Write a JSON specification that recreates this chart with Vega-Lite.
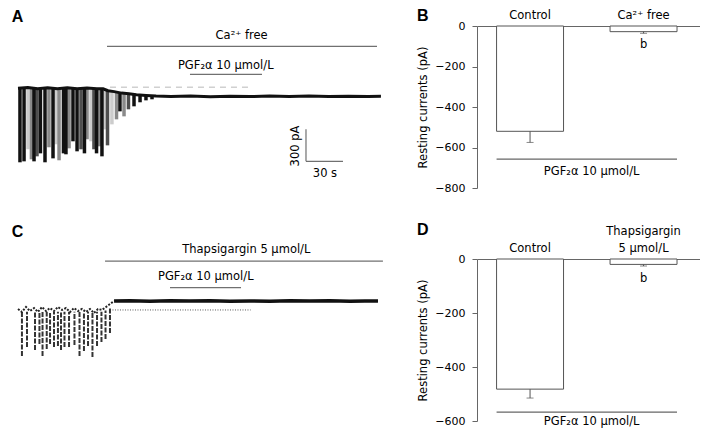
{
  "$schema": "https://vega.github.io/schema/vega-lite/v6.json",
  "padding": {"top": 7, "left": 0, "right": 0, "bottom": 0},
  "columns": 2,
  "spacing": {"row": 28, "column": 22},
  "datasets": {
    "aBase": [
      {"t": 0, "v": 75}, {"t": 8, "v": 82}, {"t": 16, "v": 70}, {"t": 24, "v": 80}, {"t": 32, "v": 72},
      {"t": 40, "v": 80}, {"t": 48, "v": 70}, {"t": 56, "v": 78}, {"t": 64, "v": 72}, {"t": 69, "v": 70},
      {"t": 73, "v": 52}, {"t": 78, "v": 44}, {"t": 84, "v": 30}, {"t": 90, "v": 24}, {"t": 96, "v": 14},
      {"t": 104, "v": 8}, {"t": 112, "v": 2}, {"t": 124, "v": -2}, {"t": 140, "v": 2}, {"t": 156, "v": -3},
      {"t": 172, "v": 1}, {"t": 188, "v": -2}, {"t": 204, "v": 2}, {"t": 220, "v": -1}, {"t": 236, "v": 2},
      {"t": 252, "v": -2}, {"t": 268, "v": 1}, {"t": 284, "v": -1}, {"t": 294.4, "v": 0}
    ],
    "aSpikes": [
      {"t": 8.1, "v": -497, "v2": 75, "sweep": 1}, {"t": 30.8, "v": -450, "v2": 75, "sweep": 1},
      {"t": 59.2, "v": -422, "v2": 75, "sweep": 1}, {"t": 70.6, "v": -310, "v2": 55, "sweep": 1},
      {"t": 76.2, "v": -263, "v2": 44, "sweep": 1},
      {"t": 10.9, "v": -591, "v2": 75, "sweep": 2}, {"t": 25.1, "v": -478, "v2": 75, "sweep": 2},
      {"t": 33.3, "v": -600, "v2": 75, "sweep": 2}, {"t": 41.4, "v": -488, "v2": 75, "sweep": 2},
      {"t": 56.0, "v": -403, "v2": 75, "sweep": 2}, {"t": 66.1, "v": -469, "v2": 75, "sweep": 2},
      {"t": 79.9, "v": -216, "v2": 44, "sweep": 2}, {"t": 86.0, "v": -188, "v2": 28, "sweep": 2},
      {"t": 15.4, "v": -563, "v2": 75, "sweep": 3}, {"t": 51.1, "v": -497, "v2": 75, "sweep": 3},
      {"t": 61.6, "v": -497, "v2": 75, "sweep": 3}, {"t": 72.6, "v": -460, "v2": 55, "sweep": 3},
      {"t": 89.6, "v": -122, "v2": 28, "sweep": 3},
      {"t": 1.6, "v": -619, "v2": 75, "sweep": 4}, {"t": 4.9, "v": -610, "v2": 75, "sweep": 4},
      {"t": 13.0, "v": -610, "v2": 75, "sweep": 4}, {"t": 18.2, "v": -535, "v2": 75, "sweep": 4},
      {"t": 21.9, "v": -619, "v2": 75, "sweep": 4}, {"t": 28.4, "v": -582, "v2": 75, "sweep": 4},
      {"t": 36.9, "v": -535, "v2": 75, "sweep": 4}, {"t": 38.9, "v": -544, "v2": 75, "sweep": 4},
      {"t": 44.6, "v": -422, "v2": 75, "sweep": 4}, {"t": 47.9, "v": -516, "v2": 75, "sweep": 4},
      {"t": 53.9, "v": -535, "v2": 75, "sweep": 4}, {"t": 63.7, "v": -535, "v2": 75, "sweep": 4},
      {"t": 68.1, "v": -563, "v2": 75, "sweep": 4}, {"t": 82.7, "v": -141, "v2": 28, "sweep": 4},
      {"t": 94.1, "v": -94, "v2": 12, "sweep": 4}, {"t": 99.0, "v": -56, "v2": 12, "sweep": 4},
      {"t": 103.8, "v": -38, "v2": 12, "sweep": 4}, {"t": 108.7, "v": -28, "v2": 12, "sweep": 4}
    ],
    "aFaint": [{"t": 74.6, "t2": 190.6, "v": 84}],
    "aBars": [
      {"name": "Ca²⁺ free", "t": 72.2, "t2": 291.2, "v": 469},
      {"name": "PGF₂α", "t": 139.5, "t2": 197.9, "v": 206},
      {"name": "30 s", "t": 233.6, "t2": 263.6, "v": -610}
    ],
    "aScaleV": [{"t": 233.6, "v": -610, "v2": -310}],
    "aText": [
      {"label": "Ca²⁺ free", "t": 181.4, "v": 539},
      {"label": "PGF₂α 10 μmol/L", "t": 168.5, "v": 253},
      {"label": "30 s", "t": 249, "v": -757}
    ],
    "aRot": [{"label": "300 pA", "t": 227.9, "v": -466}],
    "aLetter": [{"label": "A", "t": -5.1, "v": 697}],
    "cPre": [
      {"t": 0, "v": -75}, {"t": 3.2, "v": -103}, {"t": 6.5, "v": -56}, {"t": 9.7, "v": -94}, {"t": 13.0, "v": -66},
      {"t": 16.2, "v": -103}, {"t": 19.5, "v": -56}, {"t": 22.7, "v": -94}, {"t": 26.0, "v": -66}, {"t": 29.2, "v": -94},
      {"t": 32.4, "v": -56}, {"t": 35.7, "v": -84}, {"t": 38.9, "v": -66}, {"t": 42.2, "v": -103}, {"t": 45.4, "v": -66},
      {"t": 48.7, "v": -94}, {"t": 51.9, "v": -75}, {"t": 55.2, "v": -103}, {"t": 58.4, "v": -75}, {"t": 61.6, "v": -113},
      {"t": 64.9, "v": -75}, {"t": 68.1, "v": -84}, {"t": 71.4, "v": -56}, {"t": 74.6, "v": -28}, {"t": 77.9, "v": 0}
    ],
    "cPost": [
      {"t": 77.9, "v": 0}, {"t": 90.8, "v": 2}, {"t": 107.1, "v": -2}, {"t": 123.3, "v": 3}, {"t": 139.5, "v": -1},
      {"t": 155.7, "v": 2}, {"t": 171.9, "v": -2}, {"t": 188.2, "v": 1}, {"t": 204.4, "v": -2}, {"t": 220.6, "v": 2},
      {"t": 236.8, "v": -1}, {"t": 253.0, "v": 2}, {"t": 269.3, "v": -2}, {"t": 281.4, "v": 1}, {"t": 292.0, "v": 0}
    ],
    "cSpikes": [
      {"t": 3.2, "v": -516, "v2": -100}, {"t": 7.3, "v": -431, "v2": -100}, {"t": 13.8, "v": -460, "v2": -100},
      {"t": 17.4, "v": -403, "v2": -100}, {"t": 19.9, "v": -516, "v2": -100}, {"t": 23.3, "v": -450, "v2": -100},
      {"t": 26.0, "v": -403, "v2": -100}, {"t": 29.2, "v": -431, "v2": -100}, {"t": 32.4, "v": -422, "v2": -100},
      {"t": 34.9, "v": -460, "v2": -100}, {"t": 37.7, "v": -431, "v2": -100}, {"t": 41.4, "v": -431, "v2": -100},
      {"t": 45.8, "v": -413, "v2": -100}, {"t": 49.9, "v": -516, "v2": -100}, {"t": 53.5, "v": -469, "v2": -100},
      {"t": 56.8, "v": -422, "v2": -100}, {"t": 60.4, "v": -525, "v2": -100}, {"t": 64.1, "v": -422, "v2": -100},
      {"t": 67.7, "v": -385, "v2": -100}, {"t": 71.0, "v": -356, "v2": -90}, {"t": 74.6, "v": -300, "v2": -60}
    ],
    "cDot": [{"t": 74.6, "t2": 188.7, "v": -84}],
    "cBars": [
      {"name": "Thapsigargin", "t": 70.6, "t2": 296, "v": 375},
      {"name": "PGF₂α", "t": 123.3, "t2": 180.9, "v": 125}
    ],
    "cText": [
      {"label": "Thapsigargin 5 μmol/L", "t": 185.2, "v": 447},
      {"label": "PGF₂α 10 μmol/L", "t": 152.3, "v": 197}
    ],
    "cLetter": [{"label": "C", "t": -5.1, "v": 603}],
    "barsB": [
      {"cond": "Control", "mean": -520, "low": -575},
      {"cond": "Ca²⁺ free", "mean": -28, "low": -36}
    ],
    "sigB": [{"cond": "Ca²⁺ free", "v": -94, "label": "b"}],
    "pgfB": [{"from": "Control", "to": "Ca²⁺ free", "v": -657, "vt": -721, "label": "PGF₂α 10 μmol/L"}],
    "barsD": [
      {"cond": "Control", "mean": -482, "low": -515},
      {"cond": "Thapsigargin 5 μmol/L", "mean": -20, "low": -26}
    ],
    "sigD": [{"cond": "Thapsigargin 5 μmol/L", "v": -74, "label": "b"}],
    "pgfD": [{"from": "Control", "to": "Thapsigargin 5 μmol/L", "v": -567, "vt": -604, "label": "PGF₂α 10 μmol/L"}]
  },
  "concat": [
    {
      "width": 395, "height": 162,
      "encoding": {
        "x": {"field": "t", "type": "quantitative", "scale": {"domain": [-14.6, 305.8], "nice": false, "zero": false}, "axis": null},
        "y": {"field": "v", "type": "quantitative", "scale": {"domain": [-860, 659.4], "nice": false, "zero": false}, "axis": null}
      },
      "layer": [
        {"data": {"name": "aFaint"}, "mark": {"type": "rule", "color": "#d0d0d0", "strokeWidth": 1.5, "strokeDash": [6, 5]}, "encoding": {"x2": {"field": "t2"}}},
        {"data": {"name": "aSpikes"}, "mark": {"type": "rule", "strokeWidth": 3.5, "strokeCap": "butt"},
          "encoding": {"y2": {"field": "v2"}, "color": {"field": "sweep", "type": "ordinal", "scale": {"domain": [1, 2, 3, 4], "range": ["#cccccc", "#8a8a8a", "#4e4e4e", "#111111"]}, "legend": null}}},
        {"data": {"name": "aBase"}, "mark": {"type": "line", "color": "#111111", "strokeWidth": 3}, "encoding": {}},
        {"data": {"name": "aBars"}, "mark": {"type": "rule", "color": "#707070", "strokeWidth": 1.2}, "encoding": {"x2": {"field": "t2"}}},
        {"data": {"name": "aScaleV"}, "mark": {"type": "rule", "color": "#707070", "strokeWidth": 1.2}, "encoding": {"y2": {"field": "v2"}}},
        {"data": {"name": "aText"}, "mark": {"type": "text", "align": "center", "baseline": "alphabetic"}, "encoding": {"text": {"field": "label"}}},
        {"data": {"name": "aRot"}, "mark": {"type": "text", "align": "center", "baseline": "alphabetic", "angle": 270}, "encoding": {"text": {"field": "label"}}},
        {"data": {"name": "aLetter"}, "mark": {"type": "text", "align": "left", "baseline": "alphabetic", "font": "Liberation Sans", "fontSize": 16, "fontWeight": "bold"}, "encoding": {"text": {"field": "label"}}}
      ]
    },
    {
      "width": 223, "height": 162,
      "title": {"text": "B", "anchor": "start", "frame": "group", "dx": -60, "dy": 16, "font": "Liberation Sans", "fontSize": 16, "fontWeight": "bold", "color": "#000", "offset": 2},
      "layer": [
        {"data": {"name": "barsB"}, "mark": {"type": "bar", "fill": "white", "stroke": "#555555", "strokeWidth": 1},
          "encoding": {
            "x": {"field": "cond", "type": "nominal", "sort": null,
              "scale": {"domain": ["Control", "Ca²⁺ free"], "paddingInner": 0.41, "paddingOuter": 0.1875, "align": 0.46},
              "axis": {"orient": "top", "title": null, "ticks": false, "labelAngle": 0, "labelPadding": 5.5, "labelFontSize": 11.5, "domainColor": "#666666"}},
            "y": {"field": "mean", "type": "quantitative", "scale": {"domain": [-800, 0], "nice": false},
              "axis": {"values": [0, -200, -400, -600, -800], "title": "Resting currents (pA)", "grid": false, "tickSize": 5, "labelPadding": 7, "titlePadding": 6, "domainColor": "#666666", "tickColor": "#666666"}}
          }},
        {"data": {"name": "barsB"}, "mark": {"type": "rule", "color": "#555555"},
          "encoding": {"x": {"field": "cond", "type": "nominal"}, "y": {"field": "mean", "type": "quantitative"}, "y2": {"field": "low"}}},
        {"data": {"name": "barsB"}, "mark": {"type": "tick", "color": "#555555", "orient": "horizontal", "size": 7, "thickness": 1},
          "encoding": {"x": {"field": "cond", "type": "nominal"}, "y": {"field": "low", "type": "quantitative"}}},
        {"data": {"name": "sigB"}, "mark": {"type": "text", "baseline": "middle"},
          "encoding": {"x": {"field": "cond", "type": "nominal"}, "y": {"field": "v", "type": "quantitative"}, "text": {"field": "label"}}},
        {"data": {"name": "pgfB"}, "mark": {"type": "rule", "color": "#666666", "strokeWidth": 1.2},
          "encoding": {"x": {"field": "from", "type": "nominal", "bandPosition": 0}, "x2": {"field": "to", "bandPosition": 1}, "y": {"field": "v", "type": "quantitative"}}},
        {"data": {"name": "pgfB"}, "mark": {"type": "text", "baseline": "middle", "align": "center"},
          "encoding": {"x": {"field": "from", "type": "nominal", "bandPosition": 1.42}, "y": {"field": "vt", "type": "quantitative"}, "text": {"field": "label"}}}
      ]
    },
    {
      "width": 395, "height": 162,
      "encoding": {
        "x": {"field": "t", "type": "quantitative", "scale": {"domain": [-14.6, 305.8], "nice": false, "zero": false}, "axis": null},
        "y": {"field": "v", "type": "quantitative", "scale": {"domain": [-1125.6, 394], "nice": false, "zero": false}, "axis": null}
      },
      "layer": [
        {"data": {"name": "cDot"}, "mark": {"type": "rule", "color": "#555555", "strokeWidth": 1, "strokeDash": [1, 1.5]}, "encoding": {"x2": {"field": "t2"}}},
        {"data": {"name": "cSpikes"}, "mark": {"type": "rule", "color": "#333333", "strokeWidth": 2, "strokeDash": [5, 1.5], "strokeCap": "butt"}, "encoding": {"y2": {"field": "v2"}}},
        {"data": {"name": "cPre"}, "mark": {"type": "line", "color": "#222222", "strokeWidth": 2, "strokeDash": [2, 1.5]}, "encoding": {}},
        {"data": {"name": "cPost"}, "mark": {"type": "line", "color": "#111111", "strokeWidth": 3.5}, "encoding": {}},
        {"data": {"name": "cBars"}, "mark": {"type": "rule", "color": "#707070", "strokeWidth": 1.2}, "encoding": {"x2": {"field": "t2"}}},
        {"data": {"name": "cText"}, "mark": {"type": "text", "align": "center", "baseline": "alphabetic"}, "encoding": {"text": {"field": "label"}}},
        {"data": {"name": "cLetter"}, "mark": {"type": "text", "align": "left", "baseline": "alphabetic", "font": "Liberation Sans", "fontSize": 16, "fontWeight": "bold"}, "encoding": {"text": {"field": "label"}}}
      ]
    },
    {
      "width": 223, "height": 162,
      "title": {"text": "D", "anchor": "start", "frame": "group", "dx": -60, "dy": 14, "font": "Liberation Sans", "fontSize": 16, "fontWeight": "bold", "color": "#000", "offset": 2},
      "layer": [
        {"data": {"name": "barsD"}, "mark": {"type": "bar", "fill": "white", "stroke": "#555555", "strokeWidth": 1},
          "encoding": {
            "x": {"field": "cond", "type": "nominal", "sort": null,
              "scale": {"domain": ["Control", "Thapsigargin 5 μmol/L"], "paddingInner": 0.41, "paddingOuter": 0.1875, "align": 0.46},
              "axis": {"orient": "top", "title": null, "ticks": false, "labelAngle": 0, "labelPadding": 22.2, "labelFontSize": 11.5, "domainColor": "#666666", "labelLineHeight": 16.7,
                "labelExpr": "datum.label == 'Control' ? ['', 'Control'] : ['Thapsigargin', '5 μmol/L']"}},
            "y": {"field": "mean", "type": "quantitative", "scale": {"domain": [-600, 0], "nice": false},
              "axis": {"values": [0, -200, -400, -600], "title": "Resting currents (pA)", "grid": false, "tickSize": 5, "labelPadding": 7, "titlePadding": 6, "domainColor": "#666666", "tickColor": "#666666"}}
          }},
        {"data": {"name": "barsD"}, "mark": {"type": "rule", "color": "#555555"},
          "encoding": {"x": {"field": "cond", "type": "nominal"}, "y": {"field": "mean", "type": "quantitative"}, "y2": {"field": "low"}}},
        {"data": {"name": "barsD"}, "mark": {"type": "tick", "color": "#555555", "orient": "horizontal", "size": 7, "thickness": 1},
          "encoding": {"x": {"field": "cond", "type": "nominal"}, "y": {"field": "low", "type": "quantitative"}}},
        {"data": {"name": "sigD"}, "mark": {"type": "text", "baseline": "middle"},
          "encoding": {"x": {"field": "cond", "type": "nominal"}, "y": {"field": "v", "type": "quantitative"}, "text": {"field": "label"}}},
        {"data": {"name": "pgfD"}, "mark": {"type": "rule", "color": "#666666", "strokeWidth": 1.2},
          "encoding": {"x": {"field": "from", "type": "nominal", "bandPosition": 0}, "x2": {"field": "to", "bandPosition": 1}, "y": {"field": "v", "type": "quantitative"}}},
        {"data": {"name": "pgfD"}, "mark": {"type": "text", "baseline": "middle", "align": "center"},
          "encoding": {"x": {"field": "from", "type": "nominal", "bandPosition": 1.42}, "y": {"field": "vt", "type": "quantitative"}, "text": {"field": "label"}}}
      ]
    }
  ],
  "config": {
    "font": "DejaVu Sans",
    "view": {"stroke": null},
    "axis": {"labelFontSize": 11, "titleFontSize": 11.5, "titleFontWeight": "normal", "labelColor": "#000000", "titleColor": "#000000", "labelFont": "DejaVu Sans", "titleFont": "DejaVu Sans"},
    "text": {"fontSize": 11.5, "color": "#000000", "font": "DejaVu Sans"}
  }
}
